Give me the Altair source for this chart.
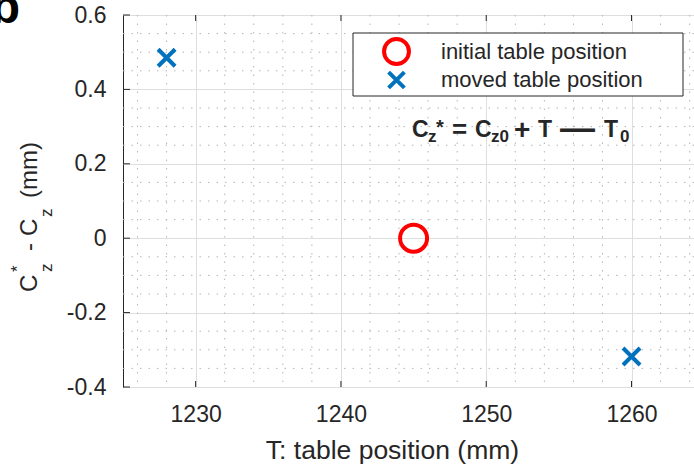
import altair as alt
import pandas as pd

# ---- data ----
series_names = ["initial table position", "moved table position"]
T_initial = [1245.0]
dC_initial = [0.0]
T_moved = [1228.0, 1260.0]
dC_moved = [0.485, -0.318]

x_major = [1230, 1240, 1250, 1260]
y_major = [-0.4, -0.2, 0.0, 0.2, 0.4, 0.6]
x_minor = [1226, 1228, 1232, 1234, 1236, 1238, 1242, 1244, 1246, 1248,
           1252, 1254, 1256, 1258, 1262, 1264]
y_minor = [-0.35, -0.3, -0.25, -0.15, -0.1, -0.05, 0.05, 0.1, 0.15,
           0.25, 0.3, 0.35, 0.45, 0.5, 0.55]

colors = ["#FF0000", "#0072BD"]
X_PATH = "M-1,-1L1,1M1,-1L-1,1"

points = pd.DataFrame({
    "T": T_initial + T_moved,
    "dC": dC_initial + dC_moved,
    "series": [series_names[0]] * len(T_initial) + [series_names[1]] * len(T_moved),
})

W, H = 571, 372
PADL, PADT = 123, 15
FONT = "Liberation Sans"
TXT = "#262626"

xs = alt.Scale(domain=[1225, 1264.3], nice=False, zero=False)
ys = alt.Scale(domain=[-0.4, 0.6], nice=False, zero=False)

ylabel_expr = ("datum.value == 0 ? '0' : (datum.value < 0 ? '-' + format(-datum.value, '.1f')"
               " : format(datum.value, '.1f'))")

X_AX = alt.Axis(
    values=x_major, format="d", grid=True, gridColor="#dedede", gridWidth=1,
    ticks=False, tickSize=0, domain=False,
    labelFont=FONT, labelFontSize=23, labelColor=TXT, labelPadding=16,
    title="T: table position (mm)", titleFont=FONT, titleFontSize=26.5,
    titleFontWeight="normal", titleColor=TXT, titleX=269, titleY=71,
    titleAlign="center", titleBaseline="alphabetic")
Y_AX = alt.Axis(
    values=y_major, grid=True, gridColor="#dedede", gridWidth=1,
    ticks=False, tickSize=0, domain=False,
    labelFont=FONT, labelFontSize=23, labelColor=TXT, labelPadding=17,
    labelExpr=ylabel_expr, title=None)

one = alt.Data(values=[{}])

def vx(px):
    return alt.value(px - PADL)

def vy(py):
    return alt.value(py - PADT)

# minor dotted grid
minor_x = alt.Chart(pd.DataFrame({"v": x_minor})).mark_rule(
    color="#b5b5b5", strokeWidth=1, strokeDash=[1.5, 7]
).encode(x=alt.X("v:Q", scale=xs, axis=X_AX))
minor_y = alt.Chart(pd.DataFrame({"v": y_minor})).mark_rule(
    color="#b5b5b5", strokeWidth=1, strokeDash=[1.5, 7]
).encode(y=alt.Y("v:Q", scale=ys, axis=Y_AX))

pts = alt.Chart(points).mark_point(filled=False, strokeWidth=4, opacity=1).encode(
    x=alt.X("T:Q", scale=xs, axis=X_AX),
    y=alt.Y("dC:Q", scale=ys, axis=Y_AX),
    color=alt.Color("series:N", scale=alt.Scale(domain=series_names, range=colors), legend=None),
    shape=alt.Shape("series:N", scale=alt.Scale(domain=series_names, range=["circle", X_PATH]), legend=None),
    size=alt.Size("series:N", scale=alt.Scale(domain=series_names, range=[729, 289]), legend=None),
)

# inside tick marks
tx = pd.DataFrame({"v": x_major})
ty = pd.DataFrame({"v": y_major})
tick_style = dict(color=TXT, strokeWidth=1)
ticks_bottom = alt.Chart(tx).mark_rule(**tick_style).encode(
    x=alt.X("v:Q", scale=xs, axis=X_AX), y=alt.value(H - 6), y2=alt.value(H))
ticks_top = alt.Chart(tx).mark_rule(**tick_style).encode(
    x=alt.X("v:Q", scale=xs, axis=X_AX), y=alt.value(0), y2=alt.value(6))
ticks_left = alt.Chart(ty).mark_rule(**tick_style).encode(
    y=alt.Y("v:Q", scale=ys, axis=Y_AX), x=alt.value(0), x2=alt.value(7))

# legend (drawn by hand)
leg_box = alt.Chart(one).mark_rect(fill="white", stroke=TXT, strokeWidth=1).encode(
    x=vx(353), x2=vx(683), y=vy(33), y2=vy(96))
leg_c = alt.Chart(one).mark_point(shape="circle", filled=False, stroke=colors[0],
                                  strokeWidth=4, size=620, opacity=1).encode(x=vx(396.5), y=vy(51.5))
leg_x = alt.Chart(one).mark_point(shape=X_PATH, filled=False, stroke=colors[1],
                                  strokeWidth=4, size=250, opacity=1).encode(x=vx(396.5), y=vy(80))
leg_t1 = alt.Chart(one).mark_text(text=series_names[0], font=FONT, fontSize=22, color=TXT,
                                  align="left", baseline="alphabetic").encode(x=vx(441), y=vy(59))
leg_t2 = alt.Chart(one).mark_text(text=series_names[1], font=FONT, fontSize=22, color=TXT,
                                  align="left", baseline="alphabetic").encode(x=vx(441), y=vy(87))

def piece(txt, px, py, size, weight="normal", angle=0, color=TXT):
    kw = dict(text=txt, font=FONT, fontSize=size, fontWeight=weight, color=color,
              align="left", baseline="alphabetic")
    if angle:
        kw["angle"] = angle
    return alt.Chart(one).mark_text(**kw).encode(x=vx(px), y=vy(py))

# formula annotation  Cz* = Cz0 + T - T0
formula = [
    piece("C", 412, 137, 23, "bold"),
    piece("z", 428, 142, 17, "bold"),
    piece("*", 436, 134, 20, "bold"),
    piece("=", 452, 138, 26, "bold"),
    piece("C", 475, 137, 23, "bold"),
    piece("z0", 491, 142, 17, "bold"),
    piece("+", 514, 139, 28, "bold"),
    piece("T", 538, 137, 23, "bold"),
    piece("\u2014", 560, 140, 35, "bold"),
    piece("T", 604, 137, 23, "bold"),
    piece("0", 620, 142, 17, "bold"),
]

# y-axis title  C*z - Cz (mm), rotated
ytitle = [
    piece("C", 37, 292, 24, angle=270),
    piece("z", 52, 272, 17, angle=270),
    piece("*", 23, 272, 17, angle=270),
    piece("-", 37, 251, 24, angle=270),
    piece("C", 37, 236, 24, angle=270),
    piece("z", 52, 217, 17, angle=270),
    piece("(mm)", 37, 198, 24, angle=270),
]

panel_letter = alt.Chart(one).mark_text(text="b", font=FONT, fontSize=48, fontWeight="bold",
                                        color="black", align="right", baseline="alphabetic").encode(
    x=vx(20), y=vy(23))

chart = alt.layer(
    minor_x, minor_y, pts, ticks_bottom, ticks_top, ticks_left,
    leg_box, leg_c, leg_x, leg_t1, leg_t2, *formula, *ytitle, panel_letter
).properties(
    width=W, height=H,
    autosize=alt.AutoSizeParams(type="none"),
    padding={"left": PADL, "top": PADT, "right": 0, "bottom": 79},
    background="white",
).configure_view(stroke=TXT, strokeWidth=1)

chart.save("out.html", embed_options={"renderer": "svg", "actions": False})
